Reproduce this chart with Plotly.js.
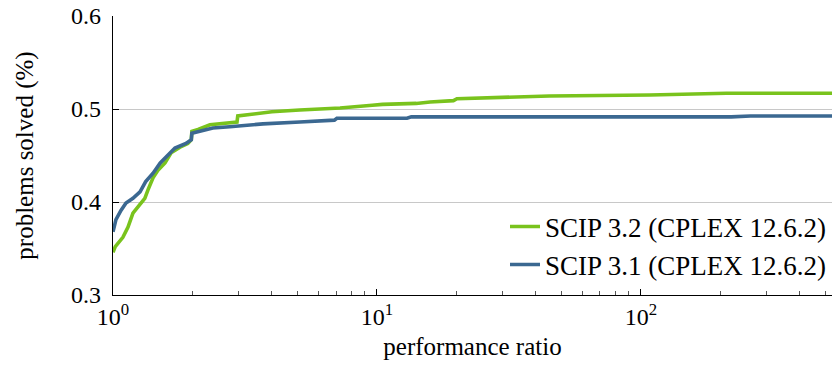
<!DOCTYPE html>
<html>
<head>
<meta charset="utf-8">
<script src="https://cdn.plot.ly/plotly-3.0.1.min.js"></script>
<style>html,body{margin:0;padding:0;background:#fff;}#chart{width:832px;height:367px;}</style>
</head>
<body>
<div id="chart"></div>
<script>
// SCIP 3.2 (CPLEX 12.6.2)
var scip32_x = [1, 1.02, 1.09, 1.14, 1.19, 1.266, 1.32, 1.357, 1.418, 1.48, 1.574, 1.66, 1.795, 1.92, 1.98, 1.99, 2.1, 2.33, 2.95, 2.97, 3.3, 4, 5.1, 7.25, 9.6, 10.5, 14.1, 15.9, 19.5, 20.1, 45, 108, 211, 530];
var scip32_y = [0.346, 0.352, 0.362, 0.373, 0.388, 0.397, 0.404, 0.413, 0.426, 0.434, 0.442, 0.453, 0.459, 0.463, 0.467, 0.476, 0.478, 0.483, 0.486, 0.4925, 0.494, 0.497, 0.499, 0.501, 0.504, 0.505, 0.506, 0.5075, 0.509, 0.511, 0.514, 0.515, 0.517, 0.517];
// SCIP 3.1 (CPLEX 12.6.2)
var scip31_x = [1, 1.026, 1.072, 1.12, 1.19, 1.266, 1.33, 1.418, 1.51, 1.587, 1.717, 1.89, 1.98, 1.99, 2.39, 2.77, 3.7, 5.11, 6.9, 7.05, 13, 13.5, 220, 260, 530];
var scip31_y = [0.368, 0.381, 0.391, 0.399, 0.404, 0.411, 0.422, 0.431, 0.442, 0.448, 0.458, 0.463, 0.467, 0.474, 0.4795, 0.481, 0.484, 0.486, 0.488, 0.490, 0.490, 0.4915, 0.4915, 0.4925, 0.4925];
var seriesNames = ['SCIP 3.2 (CPLEX 12.6.2)', 'SCIP 3.1 (CPLEX 12.6.2)'];
var xTickVals = [1, 10, 100];
var xTickText = ['10<sup>0</sup>', '10<sup>1</sup>', '10<sup>2</sup>'];
var xMinorTickVals = [2, 3, 4, 5, 6, 7, 8, 9, 20, 30, 40, 50, 60, 70, 80, 90, 200, 300, 400, 500];

var FONT = '"Liberation Serif", "DejaVu Serif", serif';
var traces = [
  {x: scip32_x, y: scip32_y, name: seriesNames[0], mode: 'lines', type: 'scatter',
   line: {color: '#79c31d', width: 3.6}},
  {x: scip31_x, y: scip31_y, name: seriesNames[1], mode: 'lines', type: 'scatter',
   line: {color: '#3b6891', width: 3.6}}
];
var layout = {
  width: 832, height: 367,
  margin: {l: 113, r: 0, t: 16, b: 72},
  paper_bgcolor: '#fff', plot_bgcolor: '#fff',
  font: {family: FONT, color: '#000', size: 24},
  showlegend: true,
  legend: {x: 1, xanchor: 'right', y: 0.02, yanchor: 'bottom', bgcolor: 'rgba(0,0,0,0)',
           font: {family: FONT, size: 27, color: '#000'}},
  xaxis: {type: 'log', range: [0, Math.log10(530)], tickvals: xTickVals, ticktext: xTickText,
          ticks: 'inside', ticklen: 6, tickcolor: '#000', showline: true, linecolor: '#000', linewidth: 1.2,
          showgrid: false, zeroline: false, tickfont: {family: FONT, size: 24}, ticklabelstandoff: 0,
          minor: {tickvals: xMinorTickVals, ticks: 'inside', ticklen: 4, tickcolor: '#555', showgrid: false},
          title: {text: 'performance ratio', font: {family: FONT, size: 25}, standoff: 8}},
  yaxis: {range: [0.3, 0.6], dtick: 0.1, tickformat: '.1f', ticks: 'inside', ticklen: 6, tickcolor: '#000',
          showline: true, linecolor: '#000', linewidth: 1.2, showgrid: true, gridcolor: '#c8c8c8', gridwidth: 1,
          zeroline: false, tickfont: {family: FONT, size: 24}, ticklabelstandoff: 6,
          title: {text: 'problems solved (%)', font: {family: FONT, size: 25}, standoff: 30}}
};
Plotly.newPlot('chart', traces, layout, {displayModeBar: false, staticPlot: true});
</script>
</body>
</html>
